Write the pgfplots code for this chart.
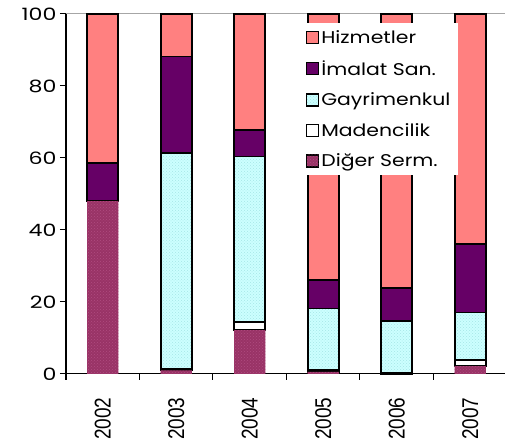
\documentclass[border=0pt]{standalone}
\usepackage{fontspec}
\setmainfont{Poppins}
\newfontfamily\yearfont{Liberation Sans}
\usepackage{graphicx}
\usepackage{pgfplots}
\pgfplotsset{compat=1.18}
\usepackage{pgfplotstable}
\usetikzlibrary{patterns}

\definecolor{hiz}{HTML}{FF8080}
\definecolor{ima}{HTML}{660066}
\definecolor{gay}{HTML}{CCFFFF}
\definecolor{gaydot}{HTML}{A6E6E6}
\definecolor{dig}{HTML}{993366}
\definecolor{digdot}{HTML}{B04C80}

% shares by sector (%), one row per year
\pgfplotstableread{
x dig mad gay ima hiz
0 48.0 0.0 0.0 10.7 41.3
1 1.0 0.4 59.9 26.9 11.8
2 12.2 2.2 46.0 7.4 32.2
3 0.6 0.5 17.1 7.9 73.9
4 0.0 0.4 14.4 9.0 76.2
5 2.2 1.6 13.3 19.0 63.9
}\shares

\newcommand\wide[1]{\scalebox{1.3}[1]{#1}}
\newcommand\lwide[1]{\scalebox{1.2}[1]{#1}}
\newcommand\tall[1]{\scalebox{1}[1.2]{#1}}

\begin{document}
\begin{tikzpicture}
\begin{axis}[
  name=ax,
  scale only axis,
  width=441pt, height=360pt,
  xmin=-0.5, xmax=5.5, ymin=0, ymax=100,
  axis x line*=bottom, axis y line*=left,
  axis line style={black, line width=1pt},
  ybar stacked, bar width=31pt, bar shift=0pt,
  xtick={0,...,5},
  xticklabels={\tall{2002},\tall{2003},\tall{2004},\tall{2005},\tall{2006},\tall{2007}},
  x tick label style={rotate=90, anchor=east, font=\yearfont\fontsize{19}{20}\selectfont,
    xshift=-14pt},
  major x tick style={draw=none},
  minor xtick={-0.5,0.5,...,5.5},
  minor x tick style={black, line width=1pt},
  minor tick length=6pt,
  ytick={0,20,...,100},
  yticklabels={\wide{0},\wide{20},\wide{40},\wide{60},\wide{80},\wide{100}},
  y tick label style={font=\fontsize{17}{20}\selectfont},
  major y tick style={black, line width=1pt},
  major tick length=6pt,
  tick align=outside,
  every axis plot/.append style={line width=1.8pt},
  reverse legend,
  legend style={at={(0.53,0.975)}, anchor=north west, draw=none, fill=white,
    font=\fontsize{17}{20}\selectfont, row sep=12pt, inner xsep=6pt, inner ysep=5pt,
    cells={anchor=west}},
  legend image code/.code={\draw[#1, line width=1.4pt] (0pt,-6pt) rectangle (12pt,6pt);},
  clip=false,
]
\addplot[fill=dig, draw=none, postaction={pattern=crosshatch dots, pattern color=digdot}]
  table[x=x, y=dig] {\shares};
\addplot[fill=white, draw=black] table[x=x, y=mad] {\shares};
\addplot[fill=gay, draw=black, postaction={pattern=crosshatch dots, pattern color=gaydot}]
  table[x=x, y=gay] {\shares};
\addplot[fill=ima, draw=black] table[x=x, y=ima] {\shares};
\addplot[fill=hiz, draw=black] table[x=x, y=hiz] {\shares};
\legend{\lwide{Diğer Serm.},\lwide{Madencilik},\lwide{Gayrimenkul},\lwide{İmalat San.},\lwide{Hizmetler}}
\draw[gray!70, line width=1pt] (rel axis cs:0,1) -- (rel axis cs:1,1);
\end{axis}
\pgfresetboundingbox
\path (ax.south west) ++(-66pt,-69pt) rectangle ++(505pt,443pt);
\end{tikzpicture}
\end{document}
